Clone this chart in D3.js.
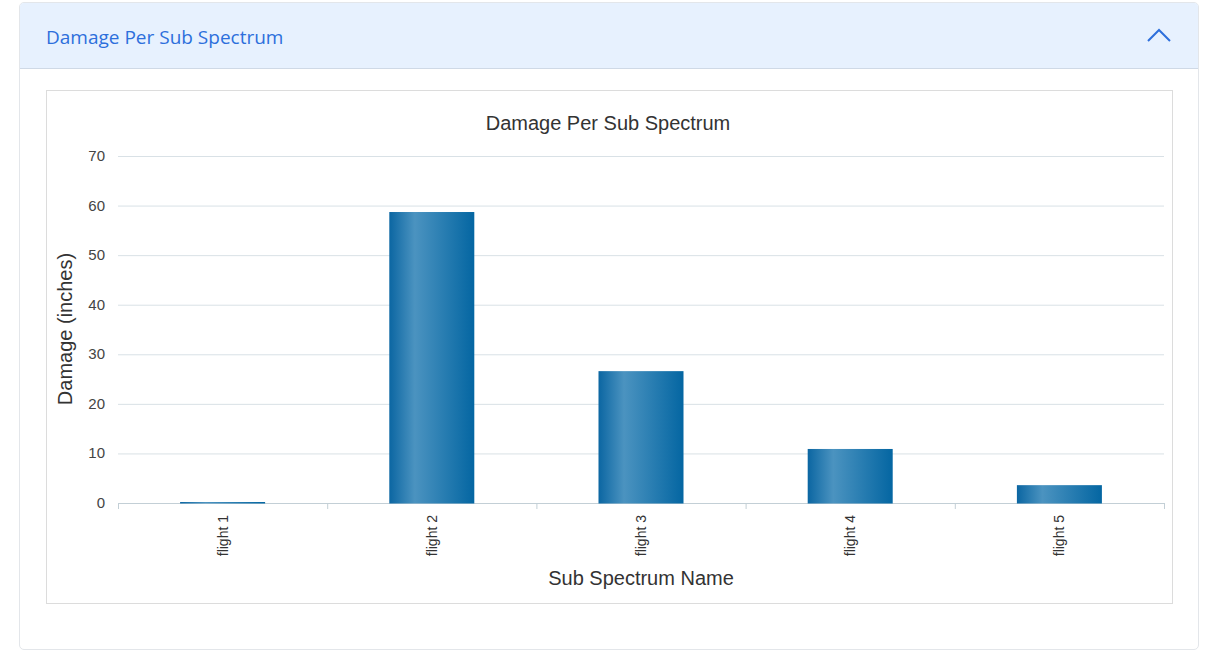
<!DOCTYPE html>
<html><head><meta charset="utf-8">
<script src="https://cdn.jsdelivr.net/npm/d3@7/dist/d3.min.js"></script>
<style>
body{margin:0;background:#fff;font-family:"Liberation Sans",Arial,sans-serif;}
#card{position:absolute;left:19px;top:2px;width:1178px;height:646px;border:1px solid #e3e6ea;border-radius:5px;overflow:hidden;}
#hdr{height:65px;background:#e7f1fe;border-bottom:1px solid #cfd9e6;position:relative;}
#hdr .t{position:absolute;left:26px;top:21px;font-family:"Open Sans","Noto Sans",sans-serif;font-size:19px;color:#2d6fdc;}
#hdr svg{position:absolute;right:27px;top:25px;}
#box{position:absolute;left:26px;top:87px;width:1125px;height:512px;border:1px solid #dcdcdc;}
#chart{position:absolute;left:0;top:0;font-family:"Liberation Sans",Arial,sans-serif;}
</style></head><body>
<div id="card"><div id="hdr"><span class="t">Damage Per Sub Spectrum</span>
<svg width="24" height="14"><path d="M1,13 L12,2 L23,13" fill="none" stroke="#2d6fdc" stroke-width="2"/></svg></div>
<div id="box"></div></div>
<svg id="chart" width="1211" height="650"></svg>
<script>
const categories = ["flight 1","flight 2","flight 3","flight 4","flight 5"];
const damage = [0.2, 58.7, 26.6, 10.9, 3.6];
const yTicks = [0,10,20,30,40,50,60,70];

const svg = d3.select("#chart");
const L=118, R=1164, T=156, B=503;
const x = d3.scaleBand().domain(categories).range([L,R]).paddingInner(0).paddingOuter(0);
const y = d3.scaleLinear().domain([0,70]).range([B,T]);

const defs = svg.append("defs");
const g = defs.append("linearGradient").attr("id","bg").attr("x1","0").attr("x2","1").attr("y1","0").attr("y2","0");
g.append("stop").attr("offset","0%").attr("stop-color","#0b66a2");
g.append("stop").attr("offset","30%").attr("stop-color","#4b93c0");
g.append("stop").attr("offset","100%").attr("stop-color","#0466a2");

// grid
svg.append("g").selectAll("line").data(yTicks.filter(d=>d>0)).join("line")
  .attr("x1",L).attr("x2",R).attr("y1",d=>y(d)+0.5).attr("y2",d=>y(d)+0.5)
  .attr("stroke","#d9e1e6").attr("stroke-width",1);

// y labels
svg.append("g").selectAll("text").data(yTicks).join("text")
  .attr("x",105).attr("y",d=>y(d)+5).attr("text-anchor","end")
  .attr("font-size",15).attr("fill","#444").text(d=>d);

// x axis
const xa = svg.append("g").attr("transform",`translate(0,${B})`)
  .call(d3.axisBottom(x).tickSize(0).tickFormat(""));
xa.select(".domain").attr("stroke","#c3cfd6").attr("d",`M${L},0.5H${R}`);
svg.append("g").selectAll("line").data(categories.map(c=>x(c)).concat([R])).join("line")
  .attr("x1",d=>d+0.5).attr("x2",d=>d+0.5).attr("y1",B).attr("y2",B+6)
  .attr("stroke","#c3cfd6");

// bars
const bw = 85;
svg.append("g").selectAll("rect").data(damage).join("rect")
  .attr("x",(d,i)=>x(categories[i])+x.bandwidth()/2-bw/2)
  .attr("width",bw)
  .attr("y",d=>y(d))
  .attr("height",d=>B-y(d)+0.5)
  .attr("fill","url(#bg)");

svg.append("g").selectAll("text").data(categories).join("text")
  .attr("transform",d=>`translate(${x(d)+x.bandwidth()/2+5},515) rotate(-90)`)
  .attr("text-anchor","end").attr("font-size",14).attr("fill","#333").text(d=>d);

// titles
svg.append("text").attr("x",608).attr("y",130).attr("text-anchor","middle")
  .attr("font-size",20).attr("fill","#333").text("Damage Per Sub Spectrum");
svg.append("text").attr("transform","translate(72,329) rotate(-90)").attr("text-anchor","middle")
  .attr("font-size",20).attr("fill","#333").text("Damage (inches)");
svg.append("text").attr("x",641).attr("y",585).attr("text-anchor","middle")
  .attr("font-size",20).attr("fill","#333").text("Sub Spectrum Name");
</script></body></html>
